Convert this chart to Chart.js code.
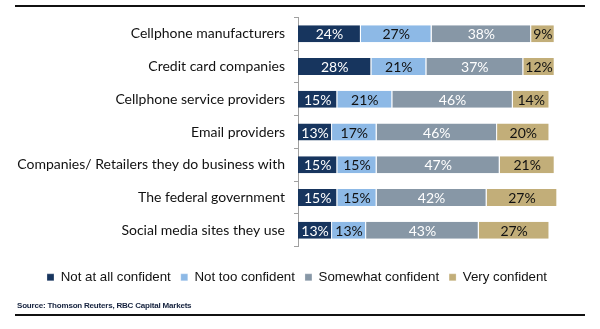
<!DOCTYPE html>
<html>
<head>
<meta charset="utf-8">
<script src="https://cdn.jsdelivr.net/npm/chart.js@4/dist/chart.umd.min.js"></script>
<style>
    body { margin: 0; background: #fff; }
    #wrap { position: relative; width: 600px; height: 329px; }
    #chart { position: absolute; left: 0; top: 0; }
    .rule { position: absolute; left: 15px; width: 570px; height: 2px; background: #111; }
    #source { position: absolute; left: 17px; top: 301px; font: bold 8px "Liberation Sans", Arial, sans-serif; color: #14213d; letter-spacing: -0.2px; }
</style>
</head>
<body>
<div id="wrap">
    <div class="rule" style="top:5px"></div>
    <canvas id="chart" width="600" height="329"></canvas>
    <div id="source">Source: Thomson Reuters, RBC Capital Markets</div>
    <div class="rule" style="top:314px"></div>
</div>
<script>
const categories = [
    "Cellphone manufacturers",
    "Credit card companies",
    "Cellphone service providers",
    "Email providers",
    "Companies/ Retailers they do business with",
    "The federal government",
    "Social media sites they use"
];
const notAtAll = [24, 28, 15, 13, 15, 15, 13];
const notToo = [27, 21, 21, 17, 15, 15, 13];
const somewhat = [38, 37, 46, 46, 47, 42, 43];
const very = [9, 12, 14, 20, 21, 27, 27];

const seriesNames = ["Not at all confident", "Not too confident", "Somewhat confident", "Very confident"];
const seriesColors = ["#17355e", "#8db9e6", "#8797a6", "#c2ae79"];
const labelColors = ["#ffffff", "#111111", "#ffffff", "#111111"];

// draw the % value in the middle of each segment
const segmentLabels = {
    id: 'segmentLabels',
    afterDatasetsDraw(chart) {
        const ctx = chart.ctx;
        ctx.save();
        ctx.font = '14px Lato, sans-serif';
        ctx.textAlign = 'center';
        ctx.textBaseline = 'middle';
        chart.data.datasets.forEach((ds, i) => {
            const meta = chart.getDatasetMeta(i);
            ctx.fillStyle = labelColors[i];
            meta.data.forEach((bar, j) => {
                ctx.fillText(ds.data[j] + '%', (bar.x + bar.base) / 2, bar.y + 1);
            });
        });
        ctx.restore();
    }
};

const allSeries = [notAtAll, notToo, somewhat, very];

new Chart(document.getElementById("chart"), {
    type: 'bar',
    data: {
        labels: categories,
        datasets: allSeries.map((values, i) => ({
            label: seriesNames[i],
            data: values,
            backgroundColor: seriesColors[i],
            borderColor: '#ffffff',
            borderWidth: { left: 0, right: 1, top: 0, bottom: 0 },
            borderSkipped: false,
            categoryPercentage: 1,
            barPercentage: 0.52
        }))
    },
    options: {
        indexAxis: 'y',
        responsive: false,
        animation: false,
        layout: { padding: { top: 17, right: 6, bottom: 35, left: 0 } },
        scales: {
            x: {
                // max above 100 leaves the empty space right of the bars
                stacked: true, min: 0, max: 113,
                afterFit(scale) { scale.height = 14; },
                ticks: { display: false },
                grid: { display: false },
                border: { display: false }
            },
            y: {
                stacked: true,
                afterFit(scale) { scale.width = 298; },
                border: { display: true, color: '#a0a0a0' },
                grid: { drawOnChartArea: false, tickLength: 4, color: '#a0a0a0' },
                ticks: { color: '#111', padding: 9, font: { family: 'Lato', size: 14 } }
            }
        },
        plugins: {
            legend: {
                position: 'bottom',
                labels: {
                    boxWidth: 7,
                    boxHeight: 7,
                    padding: 10,
                    color: '#111',
                    font: { family: 'Liberation Sans', size: 13.3 }
                }
            },
            tooltip: { enabled: false }
        }
    },
    plugins: [segmentLabels]
});
</script>
</body>
</html>
